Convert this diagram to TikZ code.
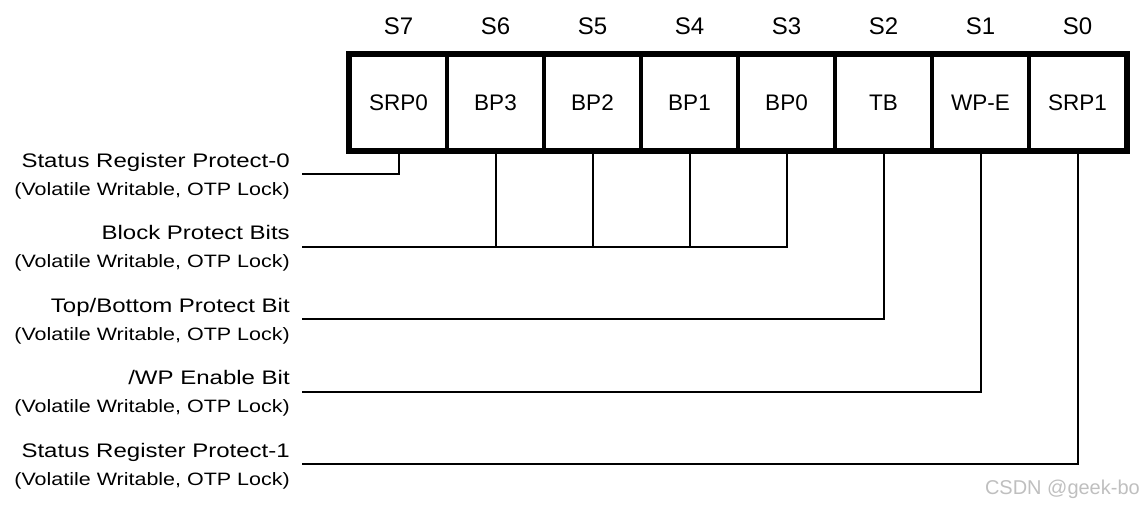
\documentclass[tikz,border=0pt]{standalone}
\usepackage{fontspec}
\setmainfont{Liberation Sans}
\usetikzlibrary{positioning}
\tikzset{
	bitcell/.style={draw, line width=3.5pt, minimum width=97pt, minimum height=95pt, inner sep=0pt, font=\fontsize{22.5}{27}\selectfont},
	bithead/.style={inner sep=0pt, font=\fontsize{24}{29}\selectfont},
	fieldname/.style={anchor=base east, inner sep=0pt, xscale=1.225, font=\fontsize{19.6}{23}\selectfont},
	fieldnote/.style={anchor=base east, inner sep=0pt, xscale=1.2, font=\fontsize{17.9}{21}\selectfont},
	wire/.style={line width=2pt},
}
\begin{document}
\begin{tikzpicture}[x=1pt,y=-1pt]
				\useasboundingbox (0,0) rectangle (1144,506);
				% register cells S7 ... S0
				\foreach \bit/\name [count=\i from 0] in {7/SRP0,6/BP3,5/BP2,4/BP1,3/BP0,2/TB,1/WP-E,0/SRP1}{
					\node[bitcell] (s\bit) at ({398.5+97*\i},102.5) {\name};
					\node[bithead, above=18pt of s\bit] (h\bit) {S\bit};
				}
				\draw[line width=5pt] (s7.north west) rectangle (s0.south east);
				% field descriptions
				\foreach \txt [count=\k from 1] in {Status Register Protect-0,Block Protect Bits,Top/Bottom Protect Bit,/WP Enable Bit,Status Register Protect-1}{
					\node[fieldname] (f\k) at (290,{167+72.5*(\k-1)}) {\txt};
					\node[fieldnote] (n\k) at (290,{195+72.5*(\k-1)}) {(Volatile Writable, OTP Lock)};
					\coordinate (w\k) at (302,{174+72.5*(\k-1)});
				}
				\draw[wire] (w1) -| (s7.south);
				\draw[wire] (w2) -| (s3.south);
				\foreach \b in {6,5,4}{
					\draw[wire] (s\b.south) -- (s\b.south |- w2);
				}
				\draw[wire] (w3) -| (s2.south);
				\draw[wire] (w4) -| (s1.south);
				\draw[wire] (w5) -| (s0.south);
				\node[anchor=base east, inner sep=0pt, text=gray!50, font=\fontsize{20}{24}\selectfont] (mark) at (1140,494) {CSDN @geek-bo};
\end{tikzpicture}
\end{document}
